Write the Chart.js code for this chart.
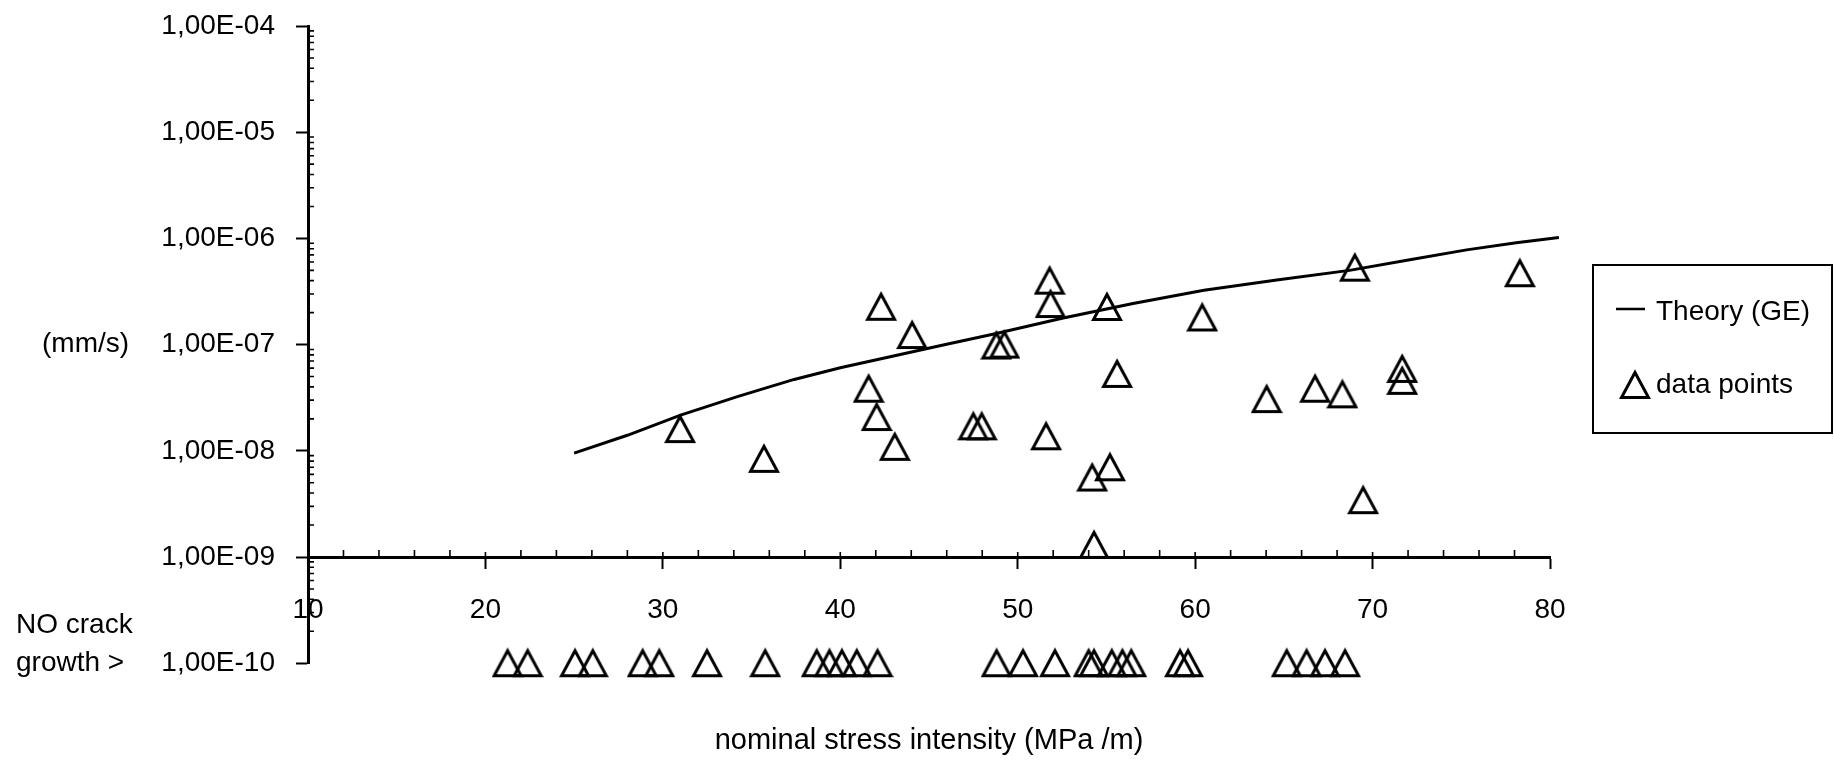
<!DOCTYPE html>
<html>
<head>
<meta charset="utf-8">
<title>crack growth rate</title>
<script src="https://cdn.jsdelivr.net/npm/chart.js@4.4.1/dist/chart.umd.min.js"></script>
<style>
	html, body { margin: 0; padding: 0; background: #fff; }
	#chartBox { width: 1834px; height: 763px; }
</style>
</head>
<body>
<div id="chartBox"><canvas id="myChart" width="1834" height="763"></canvas></div>

<script>
	// axis ticks
	var xTicks = [10, 20, 30, 40, 50, 60, 70, 80];
	var xTickLabels = ['10', '20', '30', '40', '50', '60', '70', '80'];
	var yTicks = [1e-4, 1e-5, 1e-6, 1e-7, 1e-8, 1e-9, 1e-10];
	var yTickLabels = ['1,00E-04', '1,00E-05', '1,00E-06', '1,00E-07', '1,00E-08', '1,00E-09', '1,00E-10'];

	// Theory (GE) curve
	var theoryK = [25, 28, 31, 34.2, 37.4, 40, 43, 45.8, 48.6, 52.5, 56.5, 60.5, 64.6, 68.7, 72.1, 75.3, 78.1, 80.5];
	var theoryRate = [9.5e-9, 1.4e-8, 2.17e-8, 3.24e-8, 4.7e-8, 6.05e-8, 7.8e-8, 9.9e-8, 1.25e-7, 1.77e-7, 2.44e-7, 3.25e-7, 4.05e-7, 5.0e-7, 6.3e-7, 7.8e-7, 9.1e-7, 1.02e-6];

	// measured points
	var dataK = [30.97, 35.7, 41.6, 42.05, 42.3, 43.07, 44.05, 47.5, 47.97, 48.8, 49.25, 51.6, 51.8, 51.85, 54.2, 54.3, 55.03, 55.2, 55.6, 60.4, 64.03, 66.76, 68.3, 69.0, 69.47, 71.67, 71.67, 78.3];
	var dataRate = [1.6e-8, 8.4e-9, 3.84e-8, 2.08e-8, 2.27e-7, 1.09e-8, 1.23e-7, 1.7e-8, 1.7e-8, 9.8e-8, 1.0e-7, 1.37e-8, 4.0e-7, 2.41e-7, 5.6e-9, 1.3e-9, 2.26e-7, 7.0e-9, 5.3e-8, 1.8e-7, 3.07e-8, 3.84e-8, 3.4e-8, 5.3e-7, 3.43e-9, 5.9e-8, 4.56e-8, 4.7e-7];

	// specimens with no crack growth, plotted on the 1,00E-10 line
	var noGrowthK = [21.25, 22.38, 25.05, 26.05, 28.86, 29.8, 32.49, 35.77, 38.67, 39.39, 40.09, 40.93, 42.1, 48.81, 50.3, 52.1, 54.0, 54.3, 55.3, 55.9, 56.4, 59.15, 59.6, 65.16, 66.28, 67.32, 68.45];
	var noGrowthRate = 1e-10;

	var FONT = '"Liberation Sans", Arial, Helvetica, sans-serif';

	function toPoints(xs, ys) {
		var pts = [];
		for (var i = 0; i < xs.length; i++) {
			pts.push({x: xs[i], y: Array.isArray(ys) ? ys[i] : ys});
		}
		return pts;
	}

	// open triangle marker, centred on its bounding box
	function makeTriangle() {
		var c = document.createElement('canvas');
		c.width = 32;
		c.height = 32;
		var g = c.getContext('2d');
		g.strokeStyle = '#000';
		g.lineWidth = 3;
		g.beginPath();
		g.moveTo(16, 3.5);
		g.lineTo(29.5, 28.5);
		g.lineTo(2.5, 28.5);
		g.closePath();
		g.stroke();
		return c;
	}
	var triangle = makeTriangle();

	// minor ticks, side labels and the boxed legend
	var extrasPlugin = {
		id: 'extras',
		afterDraw: function(chart) {
			var ctx = chart.ctx;
			var xs = chart.scales.x;
			var ys = chart.scales.y;
			var axisX = chart.chartArea.left;
			var axisY = ys.getPixelForValue(1e-9);

			ctx.save();
			ctx.strokeStyle = '#000';
			ctx.lineWidth = 1.6;
			ctx.beginPath();
			for (var e = -10; e < -4; e++) {
				for (var k = 2; k <= 9; k++) {
					var py = ys.getPixelForValue(k * Math.pow(10, e));
					ctx.moveTo(axisX, py);
					ctx.lineTo(axisX + 6, py);
				}
			}
			for (var v = 12; v < 80; v += 2) {
				var px = xs.getPixelForValue(v);
				ctx.moveTo(px, axisY);
				ctx.lineTo(px, axisY - (v % 10 === 0 ? 5 : 7));
			}
			ctx.stroke();

			ctx.fillStyle = '#000';
			ctx.font = '28px ' + FONT;
			ctx.textAlign = 'left';
			ctx.textBaseline = 'middle';
			ctx.fillText('(mm/s)', 42, ys.getPixelForValue(1e-7));
			var py10 = ys.getPixelForValue(1e-10);
			ctx.fillText('NO crack', 16, py10 - 38);
			ctx.fillText('growth >', 16, py10);

			// legend
			var sets = chart.data.datasets;
			ctx.lineWidth = 2;
			ctx.strokeRect(1593, 265, 239, 168);
			ctx.lineWidth = 2.5;
			ctx.beginPath();
			ctx.moveTo(1616, 309);
			ctx.lineTo(1645, 309);
			ctx.stroke();
			ctx.fillText(sets[0].label, 1656, 312);
			ctx.drawImage(triangle, 1635 - 16, 385 - 16);
			ctx.fillText(sets[1].label, 1656, 385);
			ctx.restore();
		}
	};

	Chart.defaults.font.family = FONT;
	Chart.defaults.font.size = 28;
	Chart.defaults.color = '#000';

	var ctx = document.getElementById('myChart').getContext('2d');
	var myChart = new Chart(ctx, {
		type: 'scatter',
		data: {
			datasets: [{
				label: 'Theory (GE)',
				data: toPoints(theoryK, theoryRate),
				showLine: true,
				borderColor: '#000',
				borderWidth: 3,
				pointRadius: 0,
				clip: false
			}, {
				label: 'data points',
				data: toPoints(dataK, dataRate),
				pointStyle: triangle,
				pointRadius: 13,
				clip: false
			}, {
				label: 'no growth',
				data: toPoints(noGrowthK, noGrowthRate),
				pointStyle: triangle,
				pointRadius: 13,
				clip: false
			}]
		},
		options: {
			responsive: false,
			animation: false,
			events: [],
			layout: {
				padding: {left: 0, right: 284, top: 26, bottom: 0}
			},
			scales: {
				x: {
					type: 'linear',
					position: {y: 1e-9},
					min: 10,
					max: 80,
					afterBuildTicks: function(scale) {
						scale.ticks = xTicks.map(function(v) { return {value: v}; });
					},
					afterFit: function(scale) { scale.height = 0; },
					ticks: {
						padding: 26,
						autoSkip: false,
						maxRotation: 0,
						callback: function(value) { return xTickLabels[xTicks.indexOf(value)]; }
					},
					grid: {drawOnChartArea: false, tickLength: 10, tickWidth: 2, tickColor: '#000'},
					border: {display: true, color: '#000', width: 3}
				},
				y: {
					type: 'logarithmic',
					position: 'left',
					min: 1e-10,
					max: 1e-4,
					afterBuildTicks: function(scale) {
						scale.ticks = yTicks.map(function(v) { return {value: v}; });
					},
					afterFit: function(scale) {
						scale.width = 308;
						scale.paddingTop = 0;
						scale.paddingBottom = 0;
					},
					ticks: {
						padding: 21,
						autoSkip: false,
						callback: function(value) { return yTickLabels[yTicks.indexOf(value)]; }
					},
					grid: {drawOnChartArea: false, tickLength: 12, tickWidth: 2, tickColor: '#000'},
					border: {display: true, color: '#000', width: 3}
				}
			},
			plugins: {
				legend: {display: false},
				tooltip: {enabled: false},
				title: {
					display: true,
					text: 'nominal stress intensity (MPa /m)',
					position: 'bottom',
					fullSize: false,
					color: '#000',
					font: {size: 29, weight: 'normal'},
					padding: {top: 60, bottom: 5}
				}
			}
		},
		plugins: [extrasPlugin]
	});
</script>
</body>
</html>
